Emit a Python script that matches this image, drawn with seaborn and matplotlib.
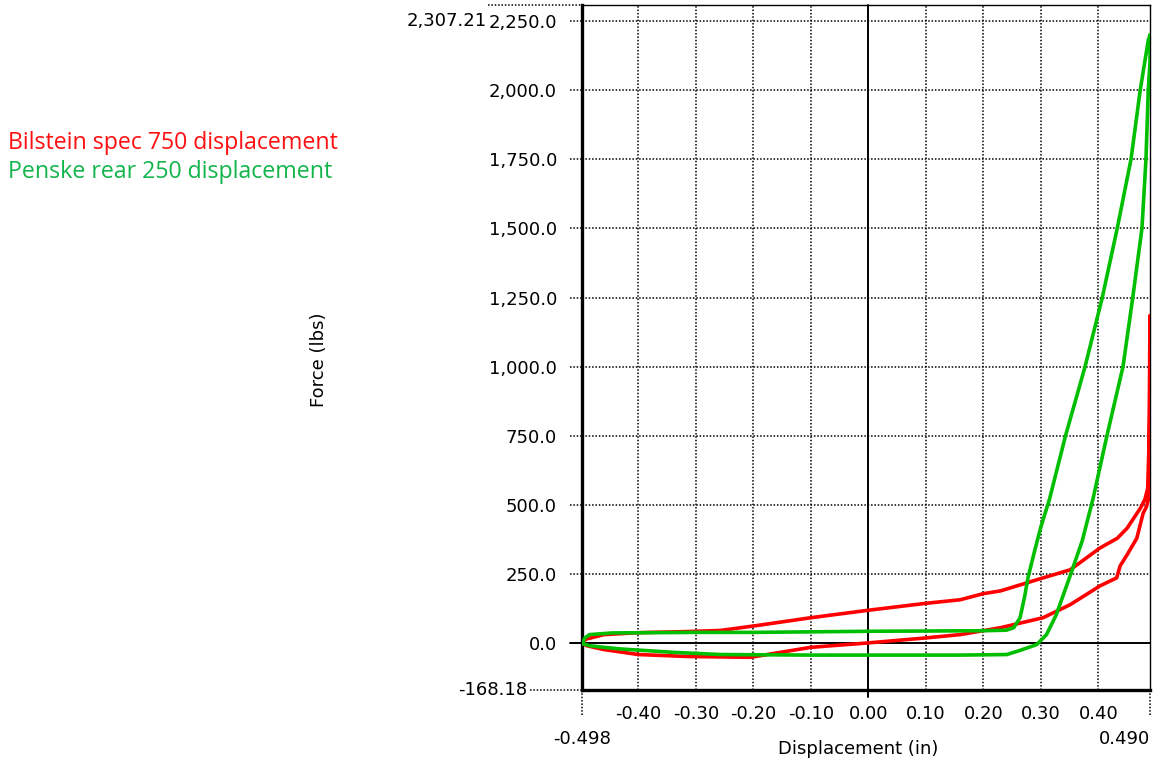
import matplotlib
matplotlib.use("Agg")
import matplotlib.pyplot as plt
import seaborn as sns
import pandas as pd

# ---------------- data ----------------
series_names = ["Bilstein spec 750 displacement", "Penske rear 250 displacement"]
series_colors = ["#FF0000", "#00BE00"]
legend_colors = ["#FF1010", "#12B54A"]

red_disp = [-0.498, -0.492, -0.46, -0.40, -0.315, -0.257, -0.193, -0.10, 0.0, 0.10, 0.16,
            0.20, 0.23, 0.304, 0.351, 0.403, 0.433, 0.45, 0.473, 0.481, 0.486, 0.488, 0.489, 0.490,
            0.490, 0.489, 0.487, 0.484, 0.478, 0.467, 0.45, 0.438, 0.432, 0.403, 0.351, 0.304,
            0.23, 0.16, 0.10, 0.0, -0.10, -0.205, -0.315, -0.40, -0.46, -0.49, -0.498]
red_force = [0, 15, 32, 39, 43, 47, 65, 93, 120, 145, 158,
             180, 190, 237, 266, 345, 380, 416, 488, 520, 560, 700, 900, 1185,
             900, 650, 520, 495, 470, 380, 320, 280, 237, 208, 140, 93,
             57, 32, 20, 2, -14, -50, -47, -40, -22, -8, 0]

green_disp = [-0.498, -0.493, -0.485, -0.445, -0.30, -0.20, 0.0, 0.10, 0.20, 0.24, 0.253, 0.264,
              0.272, 0.278, 0.29, 0.30, 0.315, 0.343, 0.377, 0.407, 0.433, 0.457, 0.473, 0.487, 0.490,
              0.490, 0.487, 0.483, 0.476, 0.460, 0.443, 0.415, 0.391, 0.372, 0.352, 0.327, 0.31,
              0.293, 0.264, 0.241, 0.16, 0.0, -0.10, -0.257, -0.34, -0.43, -0.46, -0.485, -0.498]
green_force = [0, 20, 32, 38, 40, 40, 44, 45, 46, 48, 57, 93,
               170, 240, 340, 420, 520, 750, 1000, 1250, 1500, 1750, 2000, 2180, 2200,
               2100, 2000, 1750, 1500, 1250, 1000, 750, 524, 370, 250, 104, 32,
               -4, -25, -40, -42, -42, -42, -40, -32, -20, -14, -8, 0]

x_ticks = [-0.40, -0.30, -0.20, -0.10, 0.00, 0.10, 0.20, 0.30, 0.40]
y_ticks = [0, 250, 500, 750, 1000, 1250, 1500, 1750, 2000, 2250]
x_min, x_max = -0.498, 0.490
y_min, y_max = -168.18, 2307.21
x_label = "Displacement (in)"
y_label = "Force (lbs)"

# ---------------- figure ----------------
sns.set_theme(style="white")
plt.rcParams["font.family"] = ["DejaVu Sans"]

fig = plt.figure(figsize=(11.6, 7.65), dpi=100)
W, H = 1160, 765
ax_l, ax_r, ax_t, ax_b = 582, 1150, 5, 690
ax = fig.add_axes([ax_l / W, 1 - ax_b / H, (ax_r - ax_l) / W, (ax_b - ax_t) / H])
ax_w, ax_h = ax_r - ax_l, ax_b - ax_t

frames = []
for name, xs, ys in [(series_names[0], red_disp, red_force),
                     (series_names[1], green_disp, green_force)]:
    frames.append(pd.DataFrame({"series": name, "disp": xs, "force": ys}))
df = pd.concat(frames, ignore_index=True)

sns.lineplot(data=df, x="disp", y="force", hue="series", hue_order=series_names,
             palette=dict(zip(series_names, series_colors)), sort=False,
             estimator=None, linewidth=2.6, legend=False, ax=ax, zorder=5)

ax.set_xlim(x_min, x_max)
ax.set_ylim(y_min, y_max)

FS = 13
dot = (0, (1, 1.2))
ax.set_xticks(x_ticks)
ax.set_xticklabels([f"{v:.2f}" for v in x_ticks])
ax.set_yticks(y_ticks)
ax.set_yticklabels([f"{v:,.1f}" for v in y_ticks])
ax.tick_params(axis="both", length=0, labelsize=FS, colors="black")
ax.tick_params(axis="y", pad=18)
ax.tick_params(axis="x", pad=11)

# grid (dotted)
for v in x_ticks:
    if v != 0:
        ax.axvline(v, color="black", lw=1.1, ls=dot, zorder=1)
for v in y_ticks:
    if v != 0:
        ax.axhline(v, color="black", lw=1.1, ls=dot, zorder=1)
        ax.axhline(v, xmin=-12 / ax_w, xmax=0, color="black", lw=1.1, ls=dot, clip_on=False)

# zero lines
ax.axhline(0, xmin=-12 / ax_w, xmax=1, color="black", lw=1.4, clip_on=False, zorder=2)
ax.axvline(0, ymin=-7 / ax_h, ymax=1, color="black", lw=1.4, clip_on=False, zorder=2)

# min / max extensions and labels
ax.axhline(y_max, xmin=-94 / ax_w, xmax=0, color="black", lw=1.1, ls=dot, clip_on=False)
ax.axhline(y_min, xmin=-52 / ax_w, xmax=0, color="black", lw=1.1, ls=dot, clip_on=False)
ax.axvline(x_min, ymin=-25 / ax_h, ymax=0, color="black", lw=1.1, ls=dot, clip_on=False)
ax.axvline(x_max, ymin=-25 / ax_h, ymax=0, color="black", lw=1.1, ls=dot, clip_on=False)

ax.text(-95 / ax_w, 2250, f"{y_max:,.2f}", transform=ax.get_yaxis_transform(),
        ha="right", va="center", fontsize=FS, color="black")
ax.text(-55 / ax_w, y_min, f"{y_min:,.2f}", transform=ax.get_yaxis_transform(),
        ha="right", va="center", fontsize=FS, color="black")
ax.text(x_min, -49 / ax_h, f"{x_min:.3f}", transform=ax.get_xaxis_transform(),
        ha="center", va="center", fontsize=FS, color="black")
ax.text(x_max, -49 / ax_h, f"{x_max:.3f}", transform=ax.get_xaxis_transform(),
        ha="right", va="center", fontsize=FS, color="black")

# spines
for side in ["top", "right"]:
    ax.spines[side].set_linewidth(1.0)
    ax.spines[side].set_color("black")
ax.spines["left"].set_linewidth(2.4)
ax.spines["left"].set_color("black")
ax.spines["bottom"].set_linewidth(2.4)
ax.spines["bottom"].set_color("black")

ax.set_xlabel(x_label, fontsize=FS, color="black")
ax.xaxis.set_label_coords((858 - ax_l) / ax_w, -(740 - ax_b) / ax_h)
ax.set_ylabel(y_label, fontsize=FS, color="black")
ax.yaxis.set_label_coords((328 - ax_l) / ax_w, (ax_b - 360) / ax_h)

# legend as colored text lines
for i, (name, col) in enumerate(zip(series_names, legend_colors)):
    fig.text(8 / W, 1 - (143 + 29 * i) / H, name, color=col, fontsize=16.7,
             family=["Open Sans", "DejaVu Sans"], ha="left", va="center")

fig.savefig("out.png", dpi=100)
